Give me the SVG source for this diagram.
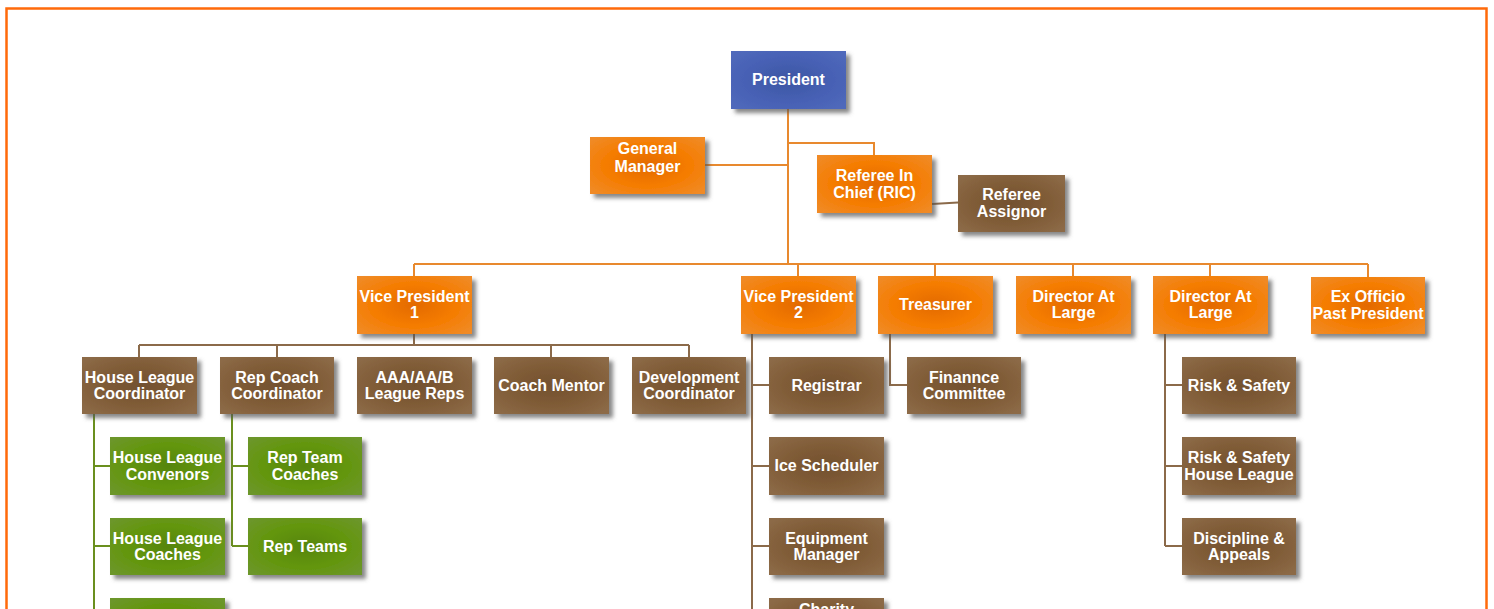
<svg xmlns="http://www.w3.org/2000/svg" width="1494" height="609" viewBox="0 0 1494 609">
<defs>
<radialGradient id="gO" cx="50%" cy="50%" r="65%">
<stop offset="0" stop-color="#E36A00"/><stop offset="0.55" stop-color="#F57C00"/><stop offset="1" stop-color="#F08A25"/>
</radialGradient>
<radialGradient id="gB" cx="50%" cy="50%" r="65%">
<stop offset="0" stop-color="#73512F"/><stop offset="0.55" stop-color="#805C37"/><stop offset="1" stop-color="#8C6A47"/>
</radialGradient>
<radialGradient id="gG" cx="50%" cy="50%" r="65%">
<stop offset="0" stop-color="#56850A"/><stop offset="0.55" stop-color="#63960C"/><stop offset="1" stop-color="#6C962A"/>
</radialGradient>
<radialGradient id="gP" cx="50%" cy="50%" r="65%">
<stop offset="0" stop-color="#3D56A3"/><stop offset="0.6" stop-color="#4761B5"/><stop offset="1" stop-color="#5069BB"/>
</radialGradient>
<filter id="sh" x="-10%" y="-15%" width="125%" height="140%">
<feDropShadow dx="4" dy="4" stdDeviation="2" flood-color="#555" flood-opacity="0.7"/>
</filter>
</defs>
<style>
.o{fill:url(#gO);filter:url(#sh)}
.b{fill:url(#gB);filter:url(#sh)}
.g{fill:url(#gG);filter:url(#sh)}
.p{fill:url(#gP);filter:url(#sh)}
text{font-family:"Liberation Sans",Arial,sans-serif;font-weight:bold;font-size:16px;fill:#fff;text-anchor:middle}
.co{stroke:#E8892E;stroke-width:2;fill:none}
.cb{stroke:#8B6A4A;stroke-width:2;fill:none}
.cg{stroke:#6A8F1E;stroke-width:2;fill:none}
</style>
<rect x="6.5" y="8.5" width="1480" height="620" fill="#fff" stroke="#FF6A0A" stroke-width="2.5"/>
<g id="connectors">
<path class="co" d="M788 109V264M705 165H788M788 143H874V155M414 264H1368M414 264V276M798 264V276M935 264V276M1073 264V276M1210 264V276M1368 264V277"/>
<path class="cb" d="M932 204L958 202.5"/>
<path class="cb" d="M414 334V345M139 345H689M139 345V357M277 345V357M551 345V357M689 345V357"/>
<path class="cb" d="M752 334V615M752 385H769M752 466H769M752 546H769M890 334V385H907M1165 334V546M1165 385H1182M1165 466H1182M1165 546H1182"/>
<path class="cg" d="M94 414V615M94 466H110M94 546H110M232 414V546M232 466H248M232 546H248"/>
</g>
<g id="president"><rect class="p" x="731" y="51" width="115" height="58"/><text x="788.5" y="85">President</text></g>
<g id="general-manager"><rect class="o" x="590" y="137" width="115" height="57"/><text x="647.5" y="154">General</text><text x="647.5" y="171.5">Manager</text></g>
<g id="ric"><rect class="o" x="817" y="155" width="115" height="58"/><text x="874.5" y="181">Referee In</text><text x="874.5" y="197.5">Chief (RIC)</text></g>
<g id="referee-assignor"><rect class="b" x="958" y="175" width="107" height="57"/><text x="1011.5" y="200">Referee</text><text x="1011.5" y="217">Assignor</text></g>
<g id="vp1"><rect class="o" x="357" y="276" width="115" height="58"/><text x="414.5" y="302">Vice President</text><text x="414.5" y="318">1</text></g>
<g id="vp2"><rect class="o" x="741" y="276" width="115" height="58"/><text x="798.5" y="302">Vice President</text><text x="798.5" y="318">2</text></g>
<g id="treasurer"><rect class="o" x="878" y="276" width="115" height="58"/><text x="935.5" y="310">Treasurer</text></g>
<g id="dal1"><rect class="o" x="1016" y="276" width="115" height="58"/><text x="1073.5" y="302">Director At</text><text x="1073.5" y="318">Large</text></g>
<g id="dal2"><rect class="o" x="1153" y="276" width="115" height="58"/><text x="1210.5" y="302">Director At</text><text x="1210.5" y="318">Large</text></g>
<g id="ex-officio"><rect class="o" x="1311" y="277" width="114" height="57"/><text x="1368" y="302">Ex Officio</text><text x="1368" y="318.5">Past President</text></g>
<g id="hl-coordinator"><rect class="b" x="82" y="357" width="115" height="57"/><text x="139.5" y="382.5">House League</text><text x="139.5" y="399">Coordinator</text></g>
<g id="rep-coach-coordinator"><rect class="b" x="220" y="357" width="114" height="57"/><text x="277" y="382.5">Rep Coach</text><text x="277" y="399">Coordinator</text></g>
<g id="aaa-reps"><rect class="b" x="357" y="357" width="115" height="57"/><text x="414.5" y="382.5">AAA/AA/B</text><text x="414.5" y="399">League Reps</text></g>
<g id="coach-mentor"><rect class="b" x="494" y="357" width="115" height="57"/><text x="551.5" y="390.5">Coach Mentor</text></g>
<g id="development-coordinator"><rect class="b" x="632" y="357" width="114" height="57"/><text x="689" y="382.5">Development</text><text x="689" y="399">Coordinator</text></g>
<g id="registrar"><rect class="b" x="769" y="357" width="115" height="57"/><text x="826.5" y="390.5">Registrar</text></g>
<g id="finance-committee"><rect class="b" x="907" y="357" width="114" height="57"/><text x="964" y="382.5">Finannce</text><text x="964" y="399">Committee</text></g>
<g id="risk-safety"><rect class="b" x="1182" y="357" width="114" height="57"/><text x="1239" y="390.5">Risk &amp; Safety</text></g>
<g id="hl-convenors"><rect class="g" x="110" y="437" width="115" height="58"/><text x="167.5" y="463">House League</text><text x="167.5" y="479.5">Convenors</text></g>
<g id="rep-team-coaches"><rect class="g" x="248" y="437" width="114" height="58"/><text x="305" y="463">Rep Team</text><text x="305" y="479.5">Coaches</text></g>
<g id="ice-scheduler"><rect class="b" x="769" y="437" width="115" height="58"/><text x="826.5" y="471">Ice Scheduler</text></g>
<g id="risk-safety-hl"><rect class="b" x="1182" y="437" width="114" height="58"/><text x="1239" y="463">Risk &amp; Safety</text><text x="1239" y="479.5">House League</text></g>
<g id="hl-coaches"><rect class="g" x="110" y="518" width="115" height="57"/><text x="167.5" y="543.5">House League</text><text x="167.5" y="560">Coaches</text></g>
<g id="rep-teams"><rect class="g" x="248" y="518" width="114" height="57"/><text x="305" y="552">Rep Teams</text></g>
<g id="equipment-manager"><rect class="b" x="769" y="518" width="115" height="57"/><text x="826.5" y="543.5">Equipment</text><text x="826.5" y="560">Manager</text></g>
<g id="discipline-appeals"><rect class="b" x="1182" y="518" width="114" height="57"/><text x="1239" y="543.5">Discipline &amp;</text><text x="1239" y="560">Appeals</text></g>
<g id="green-bottom"><rect class="g" x="110" y="598" width="115" height="58"/></g>
<g id="charity"><rect class="b" x="769" y="598" width="115" height="58"/><text x="826.5" y="615">Charity</text></g>
</svg>
